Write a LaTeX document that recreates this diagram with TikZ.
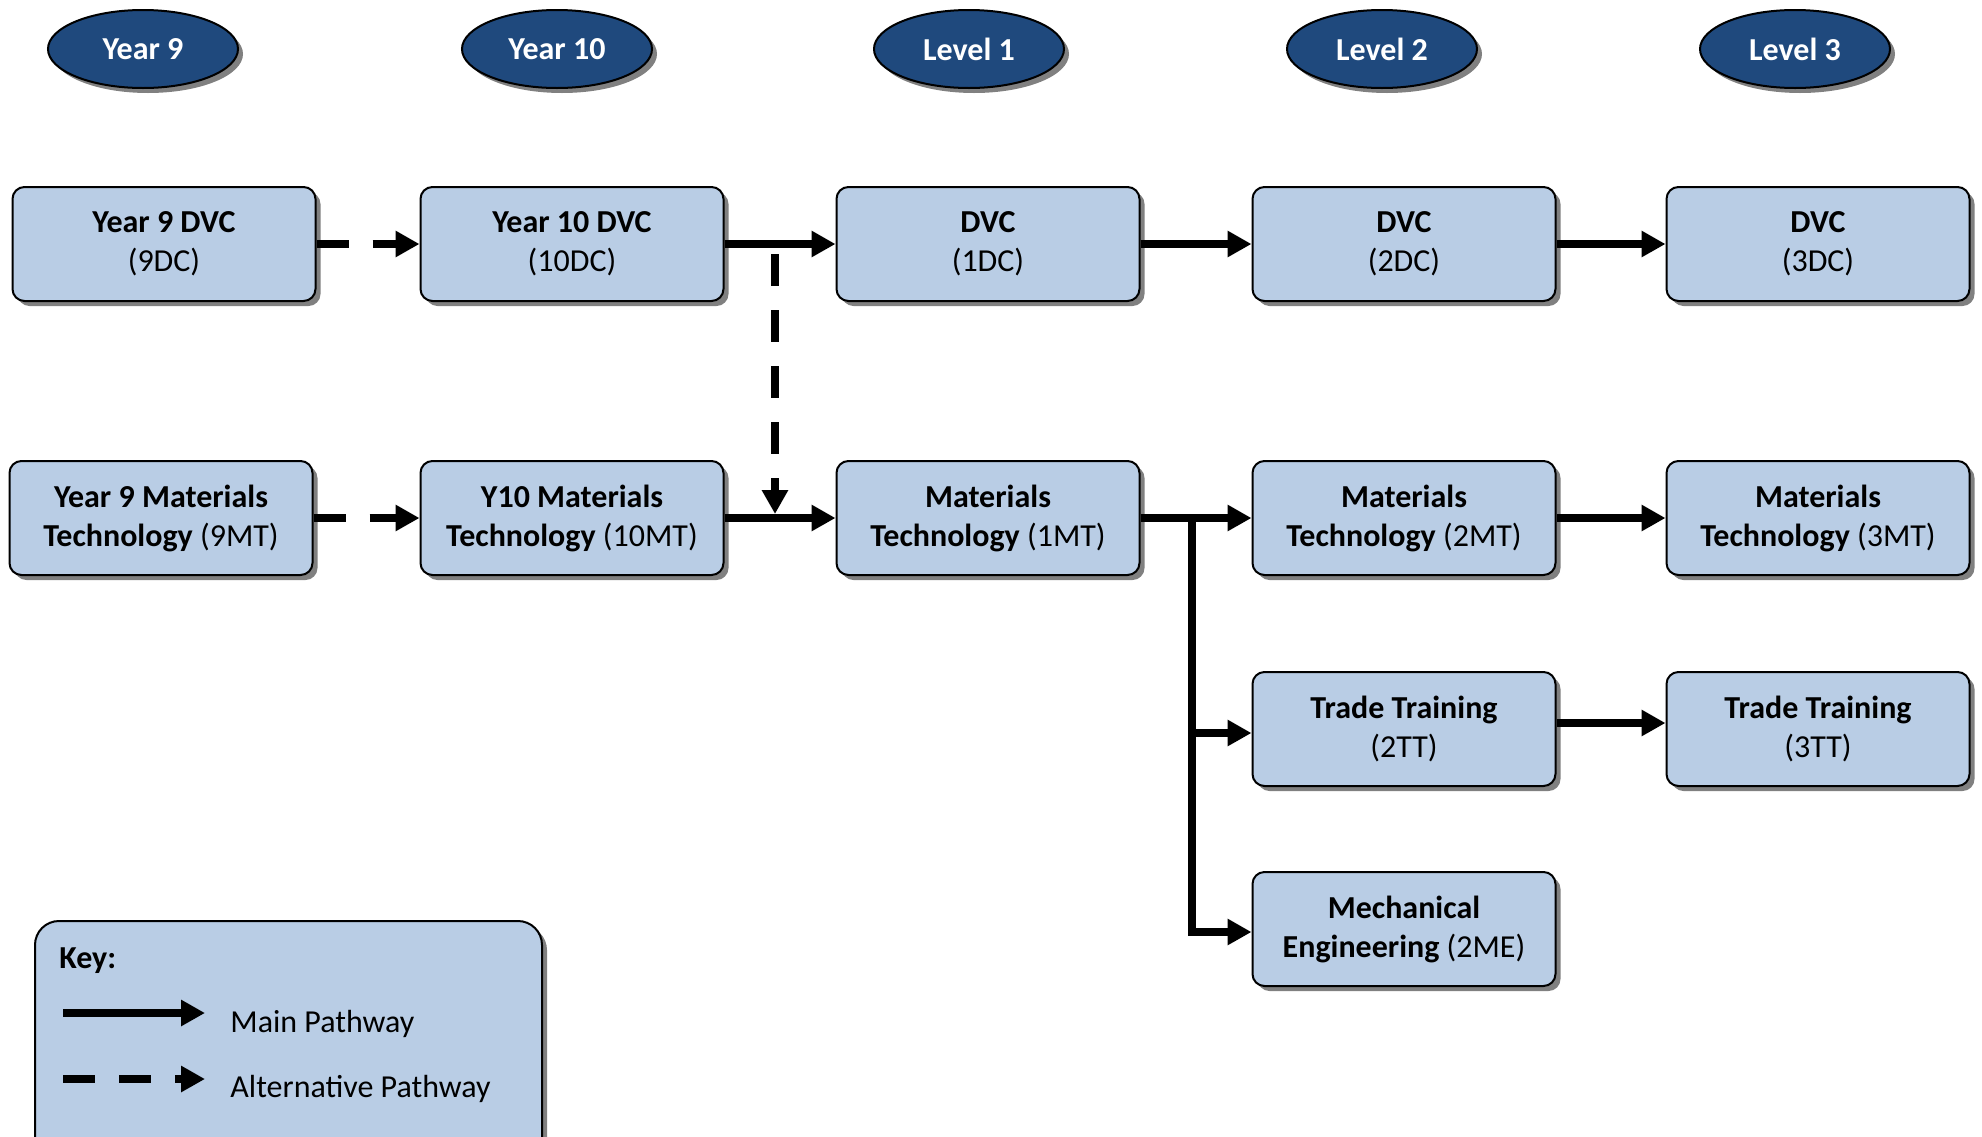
\documentclass[tikz,border=0pt]{standalone}
\usepackage{fontspec}
\setmainfont{Carlito}
\usetikzlibrary{arrows.meta,shapes.geometric,shadows}
\definecolor{boxblue}{HTML}{B9CDE5}
\definecolor{darkblue}{HTML}{1F497D}
\begin{document}
\begin{tikzpicture}[x=0.5pt,y=-0.5pt,
  shad/.style={drop shadow={shadow xshift=2.5pt,shadow yshift=-2.5pt,fill=black!50,opacity=1}},
  stepbox/.style={shad,draw=black,line width=1pt,fill=boxblue,rounded corners=6pt,
    minimum width=151.5pt,minimum height=57pt,align=center,inner sep=2pt,
    font=\fontsize{16}{19.5}\selectfont},
  lvl/.style={shad,ellipse,draw=black,line width=1pt,fill=darkblue,text=white,
    minimum width=95pt,minimum height=39pt,inner sep=0pt,
    font=\fontsize{16}{19.5}\selectfont\bfseries},
  keybox/.style={shad,draw=black,line width=1pt,fill=boxblue,rounded corners=12pt,
    minimum width=253.5pt,minimum height=125pt,anchor=north west},
  keytext/.style={anchor=west,inner sep=0pt,font=\fontsize{16}{19.5}\selectfont},
  mainarr/.style={line width=3.8pt,-{Triangle[length=12pt,width=12.5pt]}},
  altarr/.style={mainarr,dash pattern=on 16pt off 12pt}]
\useasboundingbox (0,0) rectangle (1982,1136);
\begin{scope}
\clip (0,0) rectangle (1982,1136);
% level ellipses
\node[lvl] (l9)  at (143,49)  {Year 9};
\node[lvl] (l10) at (557,49)  {Year 10};
\node[lvl] (l1)  at (969,49)  {Level 1};
\node[lvl] (l2)  at (1382,49) {Level 2};
\node[lvl] (l3)  at (1795,49) {Level 3};
% row 1
\node[stepbox] (b9dc)  at (164,244)  {\textbf{Year 9 DVC}\\(9DC)};
\node[stepbox] (b10dc) at (572,244)  {\textbf{Year 10 DVC}\\(10DC)};
\node[stepbox] (b1dc)  at (988,244)  {\textbf{DVC}\\(1DC)};
\node[stepbox] (b2dc)  at (1404,244) {\textbf{DVC}\\(2DC)};
\node[stepbox] (b3dc)  at (1818,244) {\textbf{DVC}\\(3DC)};
% row 2
\node[stepbox] (b9mt)  at (161,518)  {\textbf{Year 9 Materials}\\\textbf{Technology} (9MT)};
\node[stepbox] (b10mt) at (572,518)  {\textbf{Y10 Materials}\\\textbf{Technology} (10MT)};
\node[stepbox] (b1mt)  at (988,518)  {\textbf{Materials}\\\textbf{Technology} (1MT)};
\node[stepbox] (b2mt)  at (1404,518) {\textbf{Materials}\\\textbf{Technology} (2MT)};
\node[stepbox] (b3mt)  at (1818,518) {\textbf{Materials}\\\textbf{Technology} (3MT)};
% rows 3-4
\node[stepbox] (b2tt)  at (1404,729) {\textbf{Trade Training}\\(2TT)};
\node[stepbox] (b3tt)  at (1818,729) {\textbf{Trade Training}\\(3TT)};
\node[stepbox] (b2me)  at (1404,929) {\textbf{Mechanical}\\\textbf{Engineering} (2ME)};
% connectors row 1
\draw[altarr]  (b9dc.east) -- (b10dc.west);
\draw[mainarr] (b10dc.east) -- (b1dc.west);
\draw[mainarr] (b1dc.east) -- (b2dc.west);
\draw[mainarr] (b2dc.east) -- (b3dc.west);
% connectors row 2
\draw[altarr]  (b9mt.east) -- (b10mt.west);
\draw[mainarr] (b10mt.east) -- (b1mt.west);
\draw[mainarr] (b1mt.east) -- (b2mt.west);
\draw[mainarr] (b2mt.east) -- (b3mt.west);
% vertical alternative
\coordinate (dtop) at (775,254);
\coordinate (dbot) at (775,514);
\draw[altarr] (dtop) -- (dbot);
% branch
\coordinate (br) at (1192,518);
\draw[mainarr] (br) |- ([yshift=-1.5pt]b2me.west);
\draw[mainarr] ([yshift=-2pt]br |- b2tt.west) -- ([yshift=-2pt]b2tt.west);
\draw[mainarr] ([yshift=3pt]b2tt.east) -- ([yshift=3pt]b3tt.west);
% key
\node[keybox] (key) at (34,920) {};
\node[keytext,font=\fontsize{16}{19.5}\selectfont\bfseries] (keyt) at (59,961) {Key:};
\coordinate (k1a) at (63,1013);
\coordinate (k1b) at (205,1013);
\coordinate (k2a) at (63,1079);
\coordinate (k2b) at (205,1079);
\draw[mainarr] (k1a) -- (k1b);
\draw[altarr]  (k2a) -- (k2b);
\node[keytext] (kmain) at (230,1024) {Main Pathway};
\node[keytext] (kalt)  at (230,1089) {Alternative Pathway};
\end{scope}
\end{tikzpicture}
\end{document}
